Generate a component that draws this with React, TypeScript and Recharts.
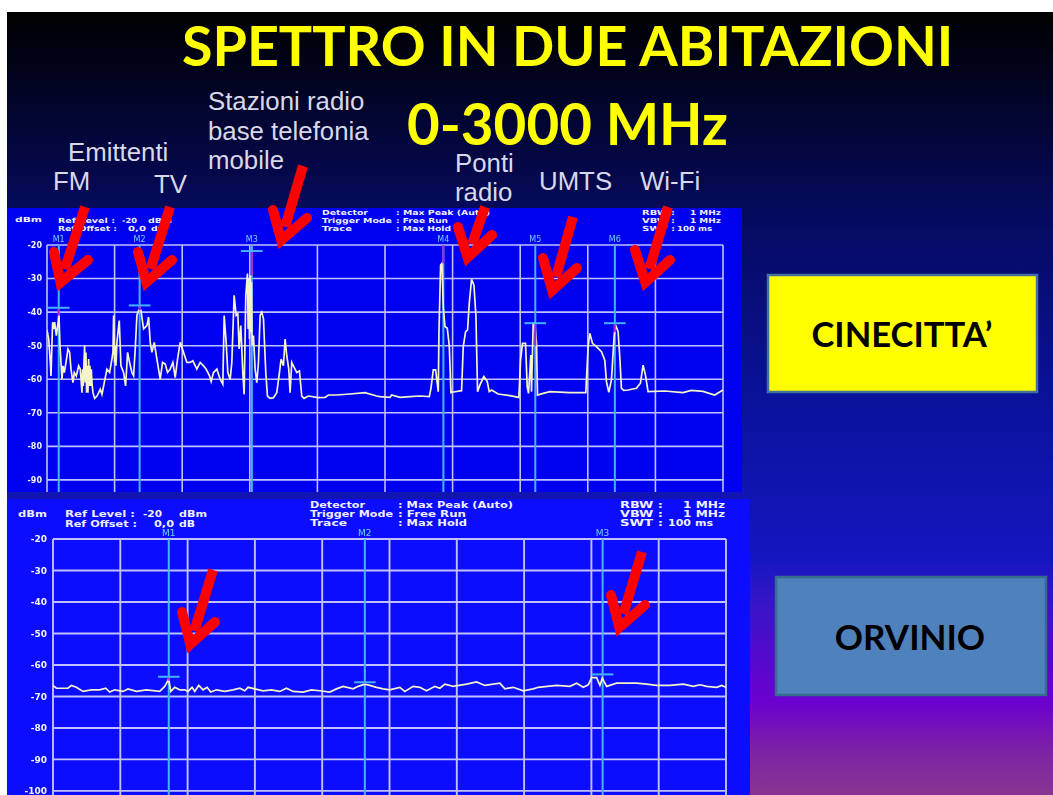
import { LineChart, Line, XAxis, YAxis, CartesianGrid, ReferenceLine } from "recharts";

const cinecittaTrace: [number, number][] = [
  [0, -45.3], [5, -48], [10, -55], [12, -59], [15, -49], [17, -43], [20, -45], [23, -43], [28, -47], [32, -44], [36, -41], [39, -50],
  [42, -55], [45, -60], [48, -56], [52, -58], [57, -55], [63, -51], [68, -52], [72, -57], [78, -61], [82, -58], [88, -59], [95, -56],
  [100, -57], [103, -61], [105, -64], [107, -57], [109, -62], [111, -55], [113, -50], [115, -61], [117, -52], [119, -64], [121, -56],
  [123, -64], [125, -54], [127, -62], [129, -56], [131, -62], [133, -57], [135, -61], [138, -64], [143, -65.7],
  [150, -65], [160, -63], [165, -64.5], [172, -61], [180, -57], [188, -58], [195, -54], [198, -52], [200, -41], [203, -55], [205, -50], [207, -56], [210, -49], [217, -42.5],
  [222, -56], [230, -58], [236, -62], [242, -52], [248, -55], [255, -58], [260, -59], [265, -51], [270, -41], [275, -39.5], [282, -39.5],
  [290, -45], [300, -44], [305, -41.5], [310, -49], [315, -52], [322, -49], [330, -54], [340, -60], [347, -55], [355, -55.5], [362, -58],
  [370, -57], [378, -55], [385, -59.5], [392, -54], [400, -49], [410, -52], [420, -55], [430, -55], [438, -54.5], [450, -57], [460, -55],
  [470, -56], [478, -57], [488, -59], [493, -60.7], [500, -58], [510, -57], [520, -60], [528, -61.5], [532, -41], [538, -49], [543, -58],
  [550, -60], [555, -55], [562, -35], [568, -41], [573, -40.5], [577, -51], [582, -44], [588, -58], [592, -64.5], [597, -35], [602, -28.5],
  [604, -45], [606, -30], [608, -48], [610, -29], [612, -46], [614, -31], [616, -50], [620, -47], [625, -57], [630, -61], [635, -55], [640, -41], [645, -40], [650, -42],
  [657, -58], [662, -65], [670, -65.7], [680, -65.5], [690, -64], [698, -58], [703, -54], [710, -56], [715, -48], [720, -53], [726, -57],
  [730, -64], [735, -55], [740, -56], [750, -58], [758, -57.5], [765, -65], [772, -65.7], [785, -65], [815, -65.5], [835, -65.4],
  [845, -64.7], [870, -64.7], [910, -64.4], [955, -64], [990, -65], [1000, -65.2], [1030, -65.4], [1035, -64.7], [1060, -65.4], [1090, -65.2],
  [1120, -65], [1148, -65.2], [1153, -62.7], [1160, -57.2], [1167, -57.2], [1175, -63.7], [1177, -46.3], [1182, -26], [1186, -25.5],
  [1190, -38.4], [1195, -44.3], [1202, -44.8], [1208, -50], [1213, -64], [1220, -63.8], [1245, -63.4], [1250, -50.3], [1257, -45.8],
  [1263, -45.3], [1268, -37.4], [1275, -30.2], [1282, -32], [1288, -41], [1293, -63.7], [1300, -61.7], [1312, -59.2], [1322, -60.7],
  [1328, -63.7], [1335, -63.2], [1355, -64.4], [1390, -64.9], [1417, -65.4], [1422, -54.3], [1428, -49.3], [1437, -49.3], [1442, -62.2],
  [1446, -64.2], [1453, -52.8], [1455, -63.7], [1460, -43.3], [1465, -43.3], [1470, -49.3], [1473, -64.7], [1490, -64.2], [1510, -63.7],
  [1570, -64], [1618, -64], [1625, -50.3], [1630, -46.3], [1638, -49.3], [1650, -50.3], [1665, -51.8], [1675, -54.3], [1680, -60.7],
  [1687, -63.9], [1695, -60.2], [1703, -47.3], [1707, -43.8], [1715, -45.8], [1720, -53.3], [1725, -62.7], [1732, -63.3], [1745, -63.2],
  [1770, -62.7], [1782, -61.2], [1790, -55.8], [1797, -58.7], [1805, -63.7], [1855, -63.5], [1910, -64], [1935, -63.3], [1970, -63.6],
  [2005, -64.7], [2030, -63.2],
];

const orvinioTrace: [number, number][] = [
  [0, -66.5], [10, -67.4], [45, -67.4], [55, -66.5], [70, -67.1], [90, -68.4], [115, -67.9], [140, -67.9], [158, -67.4], [170, -68.6],
  [185, -67.9], [210, -68.4], [225, -67.6], [250, -68.4], [280, -67.9], [320, -68.4], [335, -66.8], [347, -64.5], [353, -68.4], [365, -67.1],
  [380, -67.9], [395, -67.9], [405, -68.4], [417, -67.1], [425, -68.4], [437, -66.5], [450, -67.9], [462, -67.1], [473, -68.6], [490, -67.9],
  [515, -68.4], [540, -67.9], [560, -67.4], [575, -68.2], [585, -67.1], [605, -67.6], [630, -68.2], [655, -67.9], [680, -68.4], [700, -67.4],
  [720, -68.4], [750, -68.6], [775, -67.9], [800, -68.2], [830, -68.6], [850, -67.6], [870, -66.8], [900, -67.6], [915, -66.8], [935, -66.1],
  [950, -66.5], [970, -67.1], [990, -67.6], [1010, -67.9], [1040, -67.1], [1055, -68.4], [1080, -66.8], [1100, -67.1], [1120, -68.2],
  [1145, -66.8], [1160, -67.4], [1175, -66.1], [1200, -66.8], [1240, -66.1], [1270, -65.4], [1295, -66.5], [1340, -65.8], [1355, -67.6],
  [1380, -67.1], [1410, -68.2], [1440, -67.6], [1455, -67.1], [1510, -66.5], [1550, -66.8], [1570, -65.8], [1590, -67.1], [1605, -66.3],
  [1615, -64], [1630, -64], [1640, -66.5], [1647, -64.2], [1660, -66.8], [1690, -65.8], [1720, -65.8], [1750, -65.8], [1780, -66.1],
  [1810, -66.5], [1850, -66.5], [1890, -66.1], [1920, -66.8], [1940, -66.3], [1960, -66.8], [1990, -67.1], [2005, -66.5], [2018, -67.1],
];

const cinecittaColumns = 2030;
const orvinioColumns = 2018;

const cinecittaTicks = [-20, -30, -40, -50, -60, -70, -80, -90];
const orvinioTicks = [-20, -30, -40, -50, -60, -70, -80, -90, -100];
const sweepTicks = [0, 300, 600, 900, 1200, 1500, 1800, 2100, 2400, 2700, 3000];

// level = the cyan bar, peak = where the magenta stub above the trace ends
const cinecittaMarkers = [
  { name: "M1", mhz: 52, level: -38.7, peak: -41 },
  { name: "M2", mhz: 411, level: -38, peak: -39.5 },
  { name: "M3", mhz: 909, level: -21.8, peak: -29 },
  { name: "M4", mhz: 1759, level: null, peak: -25.5 },
  { name: "M5", mhz: 2167, level: -43.3, peak: -50 },
  { name: "M6", mhz: 2520, level: -43.3, peak: -46 },
];
const orvinioMarkers = [
  { name: "M1", mhz: 516, level: -63.75, peak: -65 },
  { name: "M2", mhz: 1390, level: -65.5, peak: -66 },
  { name: "M3", mhz: 2450, level: -63, peak: -63.5 },
];

// Red pen arrows: start, tip and the two wings, in page pixels.
const arrows = [
  { from: [85, 207], tip: [58, 290], a: [54, 252], b: [88, 260] },
  { from: [170, 207], tip: [144, 290], a: [138, 252], b: [172, 260] },
  { from: [303, 166], tip: [279, 248], a: [273, 210], b: [307, 218] },
  { from: [485, 207], tip: [465, 265], a: [458, 227], b: [492, 235] },
  { from: [573, 217], tip: [550, 298], a: [543, 258], b: [577, 268] },
  { from: [668, 207], tip: [643, 290], a: [635, 250], b: [670, 260] },
  { from: [213, 570], tip: [188, 652], a: [182, 612], b: [215, 622] },
  { from: [642, 552], tip: [617, 635], a: [611, 595], b: [645, 605] },
];

// Readout text on the analyzer screens: x, baseline, stretched width, text.
const cinecittaReadout: [number, number, number, string][] = [
  [15, 222, 27, "dBm"], [58, 223, 57, "Ref Level :"], [122, 223, 15, "-20"], [148, 223, 24, "dBm"],
  [58, 231, 59, "Ref Offset :"], [128, 231, 18, "0,0"], [151, 231, 14, "dB"],
  [322, 215, 46, "Detector"], [322, 223, 70, "Trigger Mode"], [322, 231, 30, "Trace"],
  [396, 215, 94, ": Max Peak (Auto)"], [396, 223, 52, ": Free Run"], [396, 231, 55, ": Max Hold"],
  [642, 215, 33, "RBW :"], [642, 223, 33, "VBW :"], [642, 231, 33, "SWT :"],
  [690, 215, 31, "1 MHz"], [690, 223, 31, "1 MHz"], [677, 231, 35, "100 ms"],
];
const orvinioReadout: [number, number, number, string][] = [
  [18, 517, 29, "dBm"], [65, 517, 70, "Ref Level :"], [143, 517, 19, "-20"], [179, 517, 28, "dBm"],
  [65, 527, 72, "Ref Offset :"], [154, 527, 20, "0,0"], [179, 527, 16, "dB"],
  [310, 508, 55, "Detector"], [310, 517, 83, "Trigger Mode"], [310, 526, 37, "Trace"],
  [398, 508, 115, ": Max Peak (Auto)"], [398, 517, 68, ": Free Run"], [398, 526, 69, ": Max Hold"],
  [620, 508, 43, "RBW :"], [620, 517, 43, "VBW :"], [620, 526, 43, "SWT :"],
  [683, 508, 42, "1 MHz"], [683, 517, 42, "1 MHz"], [668, 526, 45, "100 ms"],
];

const grid = "#c0c0ff";
const markerBlue = "#45b4ff";

function toRows(trace: [number, number][], columns: number) {
  return trace.map(([col, dbm]) => ({ mhz: (col * 3000) / columns, dbm }));
}

function Spectrum({ rows, ticks, markers, domainBottom, width, height, axisWidth, right, top, tickSize, labelGap, gridWidth }: any) {
  return (
    <LineChart width={width} height={height} data={rows} margin={{ top, right, bottom: 0, left: 0 }}>
      <CartesianGrid stroke={grid} strokeWidth={gridWidth} horizontalValues={ticks} verticalValues={sweepTicks} />
      <XAxis dataKey="mhz" type="number" domain={[0, 3000]} hide allowDataOverflow />
      <YAxis
        type="number"
        domain={[domainBottom, -20]}
        ticks={ticks}
        width={axisWidth}
        axisLine={false}
        tickSize={0}
        tickMargin={labelGap}
        allowDataOverflow
        interval={0}
        tick={{ fill: "#f2f2ff", fontSize: tickSize, fontFamily: "DejaVu Sans", fontWeight: 700 }}
      />
      {markers.map((m: any) => (
        <ReferenceLine
          key={m.name}
          x={m.mhz}
          stroke={markerBlue}
          strokeWidth={2}
          label={{ value: m.name, position: "top", fill: "#6fd0ff", fontSize: tickSize, fontFamily: "DejaVu Sans", offset: 3 }}
        />
      ))}
      <Line dataKey="dbm" type="linear" stroke="#f4f4c8" strokeWidth={1.7} dot={false} isAnimationActive={false} />
      {markers.map((m: any) => (
        <ReferenceLine
          key={m.name + "-stub"}
          segment={[
            { x: m.mhz, y: m.level ?? -20 },
            { x: m.mhz, y: m.peak },
          ]}
          stroke="#b020d8"
          strokeWidth={2}
        />
      ))}
      {markers
        .filter((m: any) => m.level !== null)
        .map((m: any) => (
          <ReferenceLine
            key={m.name + "-level"}
            segment={[
              { x: m.mhz - 48, y: m.level },
              { x: m.mhz + 48, y: m.level },
            ]}
            stroke={markerBlue}
            strokeWidth={2}
          />
        ))}
    </LineChart>
  );
}

function Readout({ lines, size }: { lines: [number, number, number, string][]; size: number }) {
  return (
    <g fill="#eef0ff" fontSize={size} fontFamily="DejaVu Sans" fontWeight={700}>
      {lines.map(([x, y, w, text]) => (
        <text key={`${x}-${y}`} x={x} y={y} textLength={w} lengthAdjust="spacingAndGlyphs">
          {text}
        </text>
      ))}
    </g>
  );
}

function Arrow({ from, tip, a, b }: { from: number[]; tip: number[]; a: number[]; b: number[] }) {
  // pull the head back along the shaft so the mitred point lands on the tip
  const len = Math.hypot(from[0] - tip[0], from[1] - tip[1]);
  const ux = (from[0] - tip[0]) / len;
  const uy = (from[1] - tip[1]) / len;
  const inner = [tip[0] + ux * 8, tip[1] + uy * 8];
  const belly = [tip[0] + ux * 22, tip[1] + uy * 22];
  return (
    <g stroke="#ff0000" strokeWidth={10} fill="none">
      <line x1={from[0]} y1={from[1]} x2={belly[0]} y2={belly[1]} />
      <polyline points={`${a[0]},${a[1]} ${inner[0]},${inner[1]} ${b[0]},${b[1]}`} strokeLinejoin="miter" strokeLinecap="round" />
    </g>
  );
}

export default function App() {
  return (
    <div style={{ position: "absolute", left: 0, top: 0, width: 1053, height: 795, overflow: "hidden", background: "#fff" }}>
      <div
        style={{
          position: "absolute",
          left: 7,
          top: 12,
          width: 1046,
          height: 783,
          background:
            "linear-gradient(180deg, #000000 0%, #050a5e 26%, #0a129c 50%, #1616c0 70%, #3a14c8 76%, #6b00d0 88%, #7d20a8 94%, #8a3490 100%)",
        }}
      />
      <div style={{ position: "absolute", left: 7, top: 208, width: 735, height: 284, background: "#0000f0", filter: "blur(0.4px)" }}>
        <Spectrum
          rows={toRows(cinecittaTrace, cinecittaColumns)}
          ticks={cinecittaTicks}
          markers={cinecittaMarkers}
          domainBottom={-93.6}
          width={735}
          height={284}
          axisWidth={40}
          right={19}
          top={37}
          tickSize={8}
          labelGap={5}
          gridWidth={1.6}
        />
      </div>
      <div style={{ position: "absolute", left: 7, top: 499, width: 743, height: 296, background: "#0c0cff", filter: "blur(0.3px)" }}>
        <Spectrum
          rows={toRows(orvinioTrace, orvinioColumns)}
          ticks={orvinioTicks}
          markers={orvinioMarkers}
          domainBottom={-101.3}
          width={743}
          height={296}
          axisWidth={46}
          right={24}
          top={40}
          tickSize={9}
          labelGap={6}
          gridWidth={1.9}
        />
      </div>

      <svg width={1053} height={795} style={{ position: "absolute", left: 0, top: 0 }}>
        <Readout lines={cinecittaReadout} size={7} />
        <Readout lines={orvinioReadout} size={8} />

        <g fontFamily="Lato" fontWeight={700} fill="#ffff00">
          <text x={182} y={66} fontSize={55.6}>SPETTRO IN DUE ABITAZIONI</text>
          <text x={407} y={145} fontSize={56.5}>0-3000 MHz</text>
        </g>
        <g fontFamily="Liberation Sans" fontSize={25.8} fill="#d8d8ea">
          <text x={208} y={110}>Stazioni radio</text>
          <text x={208} y={140}>base telefonia</text>
          <text x={208} y={169}>mobile</text>
          <text x={68} y={161}>Emittenti</text>
          <text x={53} y={190}>FM</text>
          <text x={154} y={193}>TV</text>
          <text x={455} y={172}>Ponti</text>
          <text x={455} y={201}>radio</text>
          <text x={539} y={190}>UMTS</text>
          <text x={640} y={190}>Wi-Fi</text>
        </g>

        {arrows.map((a, i) => (
          <Arrow key={i} {...a} />
        ))}

        <rect x={768} y={275} width={269} height={117} fill="#ffff00" stroke="#41719c" strokeWidth={2.5} />
        <text x={902} y={347} textAnchor="middle" fontFamily="Lato" fontWeight={700} fontSize={34.6} fill="#000">
          CINECITTA’
        </text>
        <rect x={776} y={577} width={270} height={118} fill="#4f81bd" stroke="#386c8c" strokeWidth={2.5} />
        <text x={910} y={650} textAnchor="middle" fontFamily="Lato" fontWeight={700} fontSize={35} fill="#000">
          ORVINIO
        </text>
      </svg>
    </div>
  );
}
